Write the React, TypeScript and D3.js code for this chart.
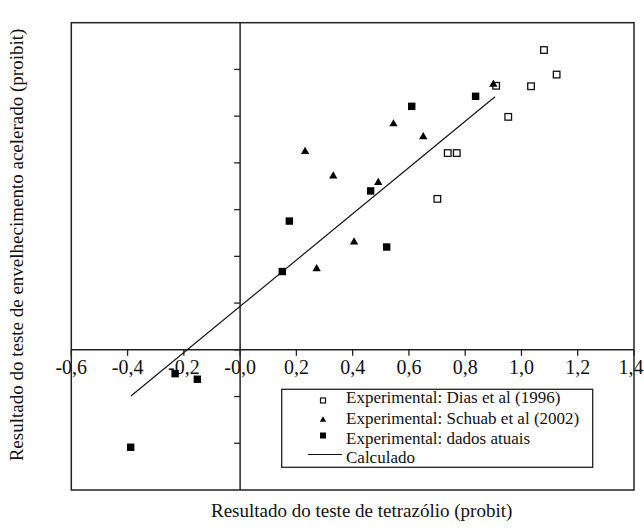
import React from "react";
import { scaleLinear, line, symbol, symbolTriangle } from "d3";

// values (probit units)
const xTicks = [-0.6, -0.4, -0.2, 0.0, 0.2, 0.4, 0.6, 0.8, 1.0, 1.2, 1.4];
const xTickLabels = ["-0,6", "-0,4", "-0,2", "-0,0", "0,2", "0,4", "0,6", "0,8", "1,0", "1,2", "1,4"];
const yTicks = [-0.4, -0.2, 0.0, 0.2, 0.4, 0.6, 0.8, 1.0, 1.2];

const diasX = [1.08, 1.125, 1.034, 0.91, 0.953, 0.738, 0.77, 0.701];
const diasY = [1.283, 1.178, 1.128, 1.13, 0.997, 0.842, 0.842, 0.646];

const schuabX = [0.9, 0.545, 0.651, 0.491, 0.231, 0.331, 0.272, 0.405];
const schuabY = [1.14, 0.971, 0.916, 0.72, 0.853, 0.748, 0.351, 0.465];

const atuaisX = [0.837, 0.61, 0.464, 0.175, 0.15, 0.521, -0.231, -0.152, -0.389];
const atuaisY = [1.085, 1.042, 0.68, 0.551, 0.335, 0.44, -0.102, -0.126, -0.417];

const calcX = [-0.388, 0.906];
const calcY = [-0.198, 1.083];

const legendLabels = [
  "Experimental: Dias et al (1996)",
  "Experimental: Schuab et al (2002)",
  "Experimental: dados atuais",
  "Calculado",
];

const W = 644;
const H = 532;
const left = 71.3, right = 634, top = 22.7, bottom = 490;
const serif = { fontFamily: "Liberation Serif" };

function App() {
  const x = scaleLinear().domain([-0.6, 1.4]).range([left, right]);
  const y = scaleLinear().domain([-0.6, 1.4]).range([bottom, top]);

  const calcLine = line<number>()
    .x((d) => x(d))
    .y((d, i) => y(calcY[i]))(calcX);

  const tri = symbol().type(symbolTriangle).size(30)();
  const triSmall = symbol().type(symbolTriangle).size(18)();

  const stroke = "#222";
  const x0 = x(0);
  const y0 = y(0);

  // legend box
  const lgX = 281.7, lgY = 389.3, lgW = 311, lgH = 78;
  const rowY = [402.5, 423.5, 444, 463];

  return (
    <svg width={W} height={H} style={{ position: "absolute", left: 0, top: 0, background: "#fff" }}>
      <rect x={0} y={0} width={W} height={H} fill="#fff" />

      {/* x tick labels sit under the frame lines */}
      {xTicks.map((t, i) => {
        const last = i === xTicks.length - 1;
        return (
          <text key={"xl" + i} x={last ? 643.5 : x(t)} y={373.5} style={serif} fontSize={20}
            textAnchor={last ? "end" : "middle"} fill="#111">
            {xTickLabels[i]}
          </text>
        );
      })}

      {/* frame */}
      <rect x={left} y={top} width={right - left} height={bottom - top} fill="none" stroke={stroke} strokeWidth={1.5} />

      {/* zero axes */}
      <line x1={x0} x2={x0} y1={top} y2={bottom} stroke={stroke} strokeWidth={1.5} />
      <line x1={left} x2={right} y1={y0} y2={y0} stroke={stroke} strokeWidth={1.5} />

      {xTicks.map((t, i) => (
        <line key={"xt" + i} x1={x(t)} x2={x(t)} y1={y0} y2={y0 + 6} stroke={stroke} strokeWidth={1.3} />
      ))}
      {yTicks.map((t, i) => (
        <line key={"yt" + i} x1={x0 - 6} x2={x0} y1={y(t)} y2={y(t)} stroke={stroke} strokeWidth={1.3} />
      ))}

      {/* calculated line */}
      <path d={calcLine || ""} fill="none" stroke="#111" strokeWidth={1.2} />

      {/* Dias et al: open squares */}
      {diasX.map((v, i) => (
        <rect key={"d" + i} x={x(v) - 3.3} y={y(diasY[i]) - 3.3} width={6.6} height={6.6} fill="#fff" stroke="#111" strokeWidth={1.3} />
      ))}

      {/* dados atuais: filled squares */}
      {atuaisX.map((v, i) => (
        <rect key={"a" + i} x={x(v) - 3.7} y={y(atuaisY[i]) - 3.7} width={7.4} height={7.4} fill="#000" />
      ))}

      {/* Schuab et al: triangles */}
      {schuabX.map((v, i) => (
        <path key={"s" + i} d={tri || ""} transform={`translate(${x(v)},${y(schuabY[i]) + 1})`} fill="#000" />
      ))}

      {/* legend */}
      <rect x={lgX} y={lgY} width={lgW} height={lgH} fill="#fff" stroke={stroke} strokeWidth={1.3} />
      <rect x={320.5} y={398} width={5} height={5} fill="#fff" stroke="#111" strokeWidth={1.2} />
      <path d={triSmall || ""} transform="translate(323,420)" fill="#000" />
      <rect x={320} y={432.5} width={6} height={6} fill="#000" />
      <line x1={308} x2={342} y1={454.5} y2={454.5} stroke="#111" strokeWidth={1.2} />
      {legendLabels.map((l, i) => (
        <text key={"lg" + i} x={346} y={rowY[i]} style={serif} fontSize={17} fill="#111">
          {l}
        </text>
      ))}

      {/* axis titles */}
      <text x={(left + right) / 2 + 9} y={517} style={serif} fontSize={19} textAnchor="middle" fill="#111">
        Resultado do teste de tetrazólio (probit)
      </text>
      <text
        transform={`translate(23,${245}) rotate(-90)`}
        style={serif}
        fontSize={19}
        textAnchor="middle"
        fill="#111"
      >
        Resultado do teste de envelhecimento acelerado (proibit)
      </text>
    </svg>
  );
}

export default App;
